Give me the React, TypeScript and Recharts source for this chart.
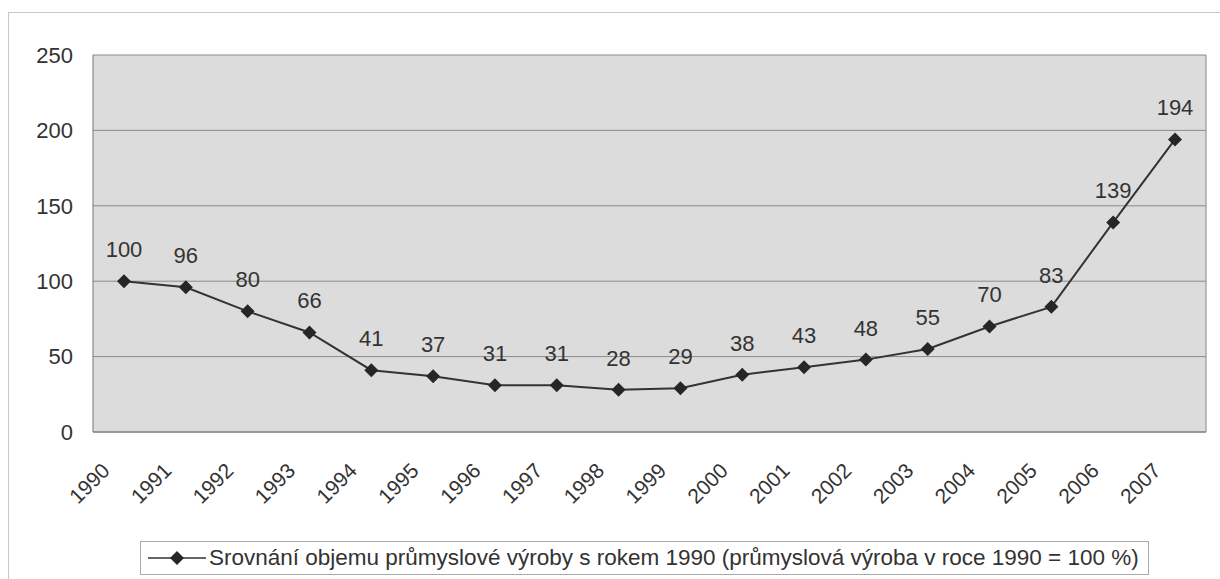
import React from 'react';
import { LineChart, Line, XAxis, YAxis, CartesianGrid, Legend, LabelList } from 'recharts';

const years = ['1990', '1991', '1992', '1993', '1994', '1995', '1996', '1997', '1998', '1999', '2000', '2001', '2002', '2003', '2004', '2005', '2006', '2007'];
const values = [100, 96, 80, 66, 41, 37, 31, 31, 28, 29, 38, 43, 48, 55, 70, 83, 139, 194];
const yTicks = [0, 50, 100, 150, 200, 250];
const seriesName = 'Srovnání objemu průmyslové výroby s rokem 1990 (průmyslová výroba v roce 1990 = 100 %)';

const data = years.map((year, i) => ({ year, value: values[i] }));

const FONT = 'Liberation Sans, Arial, sans-serif';

function Diamond(props: any) {
  const { cx, cy } = props;
  if (cx == null || cy == null) return null;
  const r = 7;
  return <path d={`M${cx},${cy - r}L${cx + r},${cy}L${cx},${cy + r}L${cx - r},${cy}Z`} fill="#262626" />;
}

function YearTick(props: any) {
  const { x, y, payload } = props;
  const ax = x - 13;
  const ay = y + 32;
  return (
    <text x={ax} y={ay} transform={`rotate(-45, ${ax}, ${ay})`} textAnchor="end" fontSize={21} fill="#333" fontFamily={FONT}>
      {payload.value}
    </text>
  );
}

function LegendBox() {
  return (
    <div style={{ border: '1px solid #aaa', background: '#fff', display: 'flex', alignItems: 'center', height: 32, padding: '0 9px 0 5px', fontFamily: FONT, fontSize: 22.5, color: '#333', whiteSpace: 'nowrap' }}>
      <svg width={60} height={16} style={{ marginRight: 3 }}>
        <line x1={2} y1={8} x2={60} y2={8} stroke="#333" strokeWidth={1.5} />
        <path d="M31,1L38,8L31,15L24,8Z" fill="#262626" />
      </svg>
      {seriesName}
    </div>
  );
}

export default function App() {
  return (
    <div style={{ position: 'absolute', left: 0, top: 0, width: 1220, height: 579, background: '#fff' }}>
      <div style={{ position: 'absolute', left: 8, top: 12, width: 1212, height: 567, borderLeft: '1px solid #c8c8c8', borderTop: '1px solid #c8c8c8' }} />
      <div style={{ position: 'absolute', left: 0, top: 0 }}>
        <LineChart width={1220} height={579} data={data} margin={{ top: 55, right: 14, left: 0, bottom: 47 }}>
          <CartesianGrid
            fill="#dcdcdc"
            stroke="#8a8a8a"
            verticalCoordinatesGenerator={({ offset }: any) => [offset.left + offset.width]}
          />
          <XAxis
            dataKey="year"
            height={100}
            interval={0}
            padding={{ left: 31, right: 31 }}
            tickLine={false}
            axisLine={{ stroke: '#777' }}
            tick={<YearTick />}
          />
          <YAxis
            width={93}
            domain={[0, 250]}
            ticks={yTicks}
            tickLine={false}
            axisLine={{ stroke: '#777' }}
            tickSize={0}
            tickMargin={20}
            tick={{ fontSize: 22, fill: '#333', fontFamily: FONT }}
          />
          <Legend
            verticalAlign="middle"
            align="center"
            wrapperStyle={{ top: 541, left: 140, width: 'auto' }}
            content={() => <LegendBox />}
          />
          <Line
            type="linear"
            dataKey="value"
            name={seriesName}
            stroke="#333"
            strokeWidth={2}
            dot={<Diamond />}
            isAnimationActive={false}
          >
            <LabelList dataKey="value" position="top" offset={24} fontSize={22} fill="#333" fontFamily={FONT} />
          </Line>
        </LineChart>
      </div>
    </div>
  );
}
